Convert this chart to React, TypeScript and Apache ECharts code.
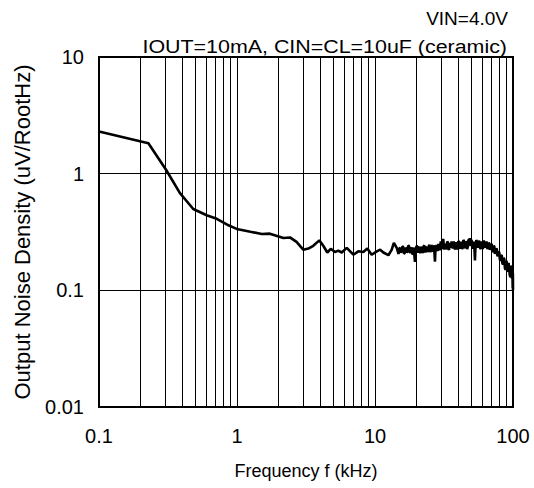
import React, { useEffect, useRef } from "react";
import * as echarts from "echarts";

// Smooth low-frequency part of the curve (kHz, uV/rtHz)
const lowFreqKHz = [
  0.1, 0.228, 0.306, 0.386, 0.482, 0.603, 0.713, 0.85, 0.995, 1.25, 1.51, 1.73, 2.17, 2.42, 2.7,
  3.02, 3.29, 3.57, 3.95, 4.22, 4.51, 4.78, 5.13, 5.42, 5.74, 6.24, 6.97, 7.57, 8.23, 8.8, 9.46,
  10.3, 10.9, 11.5, 12.5, 13.2, 13.7, 14.4,
];
const lowNoise = [
  2.3, 1.82, 1.08, 0.68, 0.498, 0.44, 0.41, 0.365, 0.336, 0.318, 0.304, 0.306, 0.281, 0.284, 0.26,
  0.223, 0.228, 0.241, 0.268, 0.241, 0.211, 0.227, 0.213, 0.219, 0.211, 0.231, 0.202, 0.216, 0.213, 0.228, 0.202,
  0.216, 0.223, 0.211, 0.2, 0.222, 0.255, 0.23,
];

// Noisy high-frequency part of the curve
const highFreqKHz = [
  14.8, 15.0, 15.2, 15.4, 15.6, 15.8, 16.0, 16.2, 16.4, 16.6,
  16.8, 17.0, 17.2, 17.4, 17.6, 17.8, 18.0, 18.2, 18.4, 18.6,
  18.8, 19.0, 19.2, 19.35, 19.5, 19.65, 19.8, 20.0, 20.2, 20.4,
  20.6, 20.8, 21.0, 21.2, 21.4, 21.6, 21.8, 22.05, 22.3, 22.55,
  22.8, 23.05, 23.3, 23.55, 23.8, 24.05, 24.3, 24.55, 24.8, 25.05,
  25.3, 25.55, 25.8, 26.05, 26.3, 26.55, 26.8, 27.0, 27.2, 27.4,
  27.6, 27.9, 28.2, 28.5, 28.8, 29.1, 29.4, 29.7, 30.0, 30.3,
  30.6, 30.9, 31.2, 31.5, 31.8, 32.1, 32.4, 32.7, 33.0, 33.35,
  33.7, 34.05, 34.4, 34.75, 35.1, 35.5, 35.9, 36.25, 36.6, 37.0,
  37.4, 37.8, 38.2, 38.6, 39.0, 39.4, 39.8, 40.2, 40.6, 41.0,
  41.4, 41.85, 42.3, 42.75, 43.2, 43.65, 44.1, 44.55, 45.0, 45.5,
  46.0, 46.5, 47.0, 47.5, 48.0, 48.3, 48.6, 49.0, 49.4, 49.9,
  50.4, 50.9, 51.4, 51.9, 52.4, 52.7, 53.0, 53.3, 53.6, 54.2,
  54.8, 55.4, 56.0, 56.6, 57.2, 57.8, 58.4, 59.0, 59.6, 60.2,
  60.8, 61.4, 62.0, 62.6, 63.3, 63.9, 64.6, 65.3, 66.0, 66.7,
  67.4, 68.1, 68.8, 69.5, 70.2, 70.9, 71.7, 72.4, 73.2, 74.0,
  74.8, 75.6, 76.4, 77.2, 78.0, 78.8, 79.6, 80.4, 81.3, 82.1,
  83.0, 83.8, 84.7, 85.6, 86.5, 87.4, 88.3, 89.2, 90.1, 91.0,
  92.0, 92.9, 93.9, 94.8, 95.8, 96.4, 97.0, 97.6, 98.3, 98.7,
  99.0, 99.3, 99.5, 99.8, 100,
];
const highNoise = [
  0.205, 0.228, 0.232, 0.214, 0.212, 0.238, 0.236, 0.207, 0.208, 0.231,
  0.228, 0.211, 0.215, 0.242, 0.24, 0.214, 0.21, 0.229, 0.233, 0.204,
  0.206, 0.232, 0.226, 0.19, 0.175, 0.214, 0.222, 0.24, 0.238, 0.216,
  0.211, 0.233, 0.235, 0.212, 0.209, 0.237, 0.23, 0.21, 0.214, 0.239,
  0.242, 0.216, 0.212, 0.233, 0.236, 0.214, 0.218, 0.24, 0.245, 0.222,
  0.213, 0.244, 0.238, 0.215, 0.22, 0.243, 0.236, 0.205, 0.176, 0.22,
  0.232, 0.245, 0.222, 0.218, 0.25, 0.236, 0.22, 0.244, 0.262, 0.238,
  0.226, 0.258, 0.276, 0.246, 0.224, 0.24, 0.252, 0.225, 0.23, 0.262,
  0.258, 0.228, 0.222, 0.255, 0.248, 0.232, 0.263, 0.242, 0.228, 0.262,
  0.255, 0.228, 0.226, 0.258, 0.25, 0.224, 0.23, 0.264, 0.26, 0.232,
  0.228, 0.26, 0.254, 0.226, 0.232, 0.27, 0.266, 0.236, 0.23, 0.262,
  0.258, 0.226, 0.236, 0.268, 0.272, 0.245, 0.281, 0.25, 0.24, 0.27,
  0.262, 0.235, 0.228, 0.262, 0.25, 0.21, 0.18, 0.22, 0.236, 0.27,
  0.262, 0.232, 0.232, 0.266, 0.258, 0.23, 0.228, 0.262, 0.255, 0.226,
  0.236, 0.268, 0.27, 0.238, 0.232, 0.262, 0.256, 0.225, 0.226, 0.256,
  0.25, 0.222, 0.222, 0.25, 0.246, 0.215, 0.216, 0.24, 0.238, 0.205,
  0.205, 0.228, 0.225, 0.195, 0.195, 0.215, 0.21, 0.182, 0.18, 0.2,
  0.198, 0.17, 0.168, 0.19, 0.185, 0.155, 0.15, 0.178, 0.175, 0.148,
  0.145, 0.172, 0.172, 0.135, 0.13, 0.162, 0.16, 0.13, 0.128, 0.158,
  0.155, 0.12, 0.105, 0.14, 0.1,
];

const xMinorGrid = [
  0.2, 0.3, 0.4, 0.5, 0.6, 0.7, 0.8, 0.9,
  2, 3, 4, 5, 6, 7, 8, 9,
  20, 30, 40, 50, 60, 70, 80, 90,
];

const titleLine1 = "VIN=4.0V";
const titleLine2 = "IOUT=10mA, CIN=CL=10uF (ceramic)";
const xName = "Frequency f (kHz)";
const yName = "Output Noise Density (uV/RootHz)";

const FONT = "'Liberation Sans', Arial, sans-serif";

function fmt(v: number) {
  return String(parseFloat(Number(v).toPrecision(2)));
}

export default function App() {
  const ref = useRef<HTMLDivElement>(null);
  useEffect(() => {
    document.body.style.margin = "0";
    document.body.style.overflow = "hidden";
    if (!ref.current) return;
    const chart = echarts.init(ref.current, undefined, { renderer: "svg" });
    const freq = lowFreqKHz.concat(highFreqKHz);
    const noise = lowNoise.concat(highNoise);
    const data = freq.map((f, i) => [f, noise[i]]);
    chart.setOption({
      animation: false,
      backgroundColor: "#fff",
      textStyle: { fontFamily: FONT, color: "#000" },
      graphic: [
        {
          type: "text",
          x: 508,
          y: 18,
          style: {
            text: titleLine1,
            fontFamily: FONT,
            fontSize: 19,
            fill: "#000",
            align: "right",
            verticalAlign: "middle",
          },
        },
        {
          type: "text",
          x: 507,
          y: 47,
          scaleX: 1.19,
          style: {
            text: titleLine2,
            fontFamily: FONT,
            fontSize: 18,
            fill: "#000",
            align: "right",
            verticalAlign: "middle",
          },
        },
      ],
      grid: {
        left: 99,
        top: 57,
        right: 21,
        bottom: 81,
        show: true,
        borderColor: "#000",
        borderWidth: 2,
        backgroundColor: "transparent",
        containLabel: false,
        outerBoundsMode: "none",
      },
      xAxis: {
        type: "log",
        logBase: 10,
        min: 0.1,
        max: 100,
        name: xName,
        nameLocation: "middle",
        nameGap: 55,
        nameTextStyle: { fontFamily: FONT, fontSize: 18, color: "#000" },
        axisLine: { show: true, lineStyle: { color: "#000", width: 2 } },
        axisTick: { show: false },
        axisLabel: { fontFamily: FONT, fontSize: 20, color: "#000", margin: 19, formatter: fmt },
        splitLine: { show: true, lineStyle: { color: "#000", width: 1 } },
      },
      yAxis: {
        type: "log",
        logBase: 10,
        min: 0.01,
        max: 10,
        name: yName,
        nameLocation: "middle",
        nameGap: 66,
        nameTextStyle: { fontFamily: FONT, fontSize: 22, color: "#000" },
        axisLine: { show: true, lineStyle: { color: "#000", width: 2 } },
        axisTick: { show: false },
        axisLabel: { fontFamily: FONT, fontSize: 20, color: "#000", margin: 15, formatter: fmt },
        splitLine: { show: true, lineStyle: { color: "#000", width: 1 } },
      },
      series: [
        {
          type: "line",
          data,
          showSymbol: false,
          symbol: "none",
          lineStyle: { color: "#000", width: 2.6 },
          z: 5,
          markLine: {
            silent: true,
            symbol: "none",
            label: { show: false },
            lineStyle: { color: "#000", width: 1, type: "solid" },
            data: xMinorGrid.map((v) => ({ xAxis: v })),
            z: 1,
          },
        },
      ],
    });
    return () => chart.dispose();
  }, []);
  return <div ref={ref} style={{ width: 534, height: 488 }} />;
}
